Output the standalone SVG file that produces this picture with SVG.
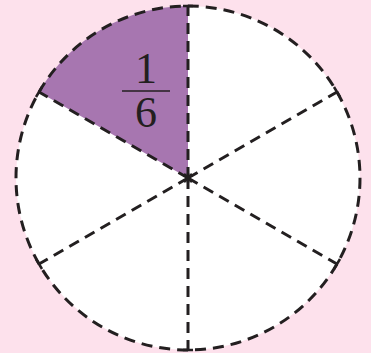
<svg xmlns="http://www.w3.org/2000/svg" width="371" height="353" viewBox="0 0 371 353">
<style>
.d{stroke:#231f20;stroke-width:3;stroke-dasharray:11 7;fill:none}
.t{stroke:#231f20;stroke-width:2.5;fill:none}
.f{font-family:"Liberation Serif",serif;font-size:44px;fill:#231f20;text-anchor:middle}
</style>
<rect width="371" height="353" fill="#fde1ec"/>
<g id="circle">
<circle cx="188" cy="178" r="172" fill="#fff"/>
<path d="M188,178 L188,6 A172,172 0 0 0 39,92 Z" fill="#a776b0"/>
<circle cx="188" cy="178" r="172" class="d"/>
</g>
<g id="spokes">
<line x1="188" y1="178" x2="188" y2="6" class="d"/>
<line x1="188" y1="178" x2="188" y2="350" class="d"/>
<line x1="188" y1="178" x2="39" y2="92" class="d"/>
<line x1="188" y1="178" x2="337" y2="92" class="d"/>
<line x1="188" y1="178" x2="39" y2="264" class="d"/>
<line x1="188" y1="178" x2="337" y2="264" class="d"/>
<path class="t" d="M183,6 H193 M183,350 H193 M36,97 L42,87 M334,87 L340,97 M36,259 L42,269 M334,269 L340,259 M184,174 L192,182 M192,174 L184,182 M188,173 V183"/>
</g>
<g id="label">
<text x="146" y="83" class="f">1</text>
<line x1="122" y1="91" x2="170" y2="91" stroke="#231f20" stroke-width="1.6"/>
<text x="146" y="127" class="f">6</text>
</g>
</svg>
